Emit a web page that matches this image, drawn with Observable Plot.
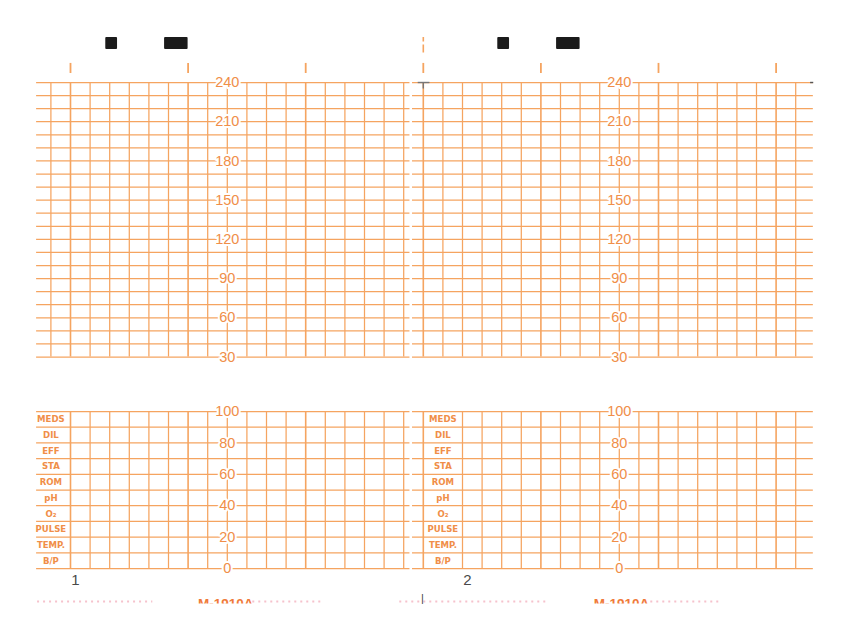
<!DOCTYPE html>
<html><head><meta charset="utf-8">
<script src="https://cdn.jsdelivr.net/npm/d3@7"></script>
<script src="https://cdn.jsdelivr.net/npm/@observablehq/plot@0.6"></script>
<style>
html,body{margin:0;padding:0;background:#fff;}
#paper{position:relative;width:853px;height:640px;overflow:hidden;background:#fff;}
#paper svg{position:absolute;left:0;background:transparent;}
</style></head><body><div id="paper"></div>
<script>
// ---- data (x in seconds of strip time, 10 s per small division) ----
const pages = [1, 2];
const panelStart = [-20, 180];
const panelFrom = [-17.3, 174.5];
const panelTo = [173.2, 379];
const fhrTicks = [240, 210, 180, 150, 120, 90, 60, 30];
const fhrGrid = [30, 40, 50, 60, 70, 80, 90, 100, 110, 120, 130, 140, 150, 160, 170, 180, 190, 200, 210, 220, 230, 240];
const uaTicks = [100, 80, 60, 40, 20, 0];
const uaGrid = [0, 10, 20, 30, 40, 50, 60, 70, 80, 90, 100];
const rowLabels = ["MEDS", "DIL", "EFF", "STA", "ROM", "pH", "O₂", "PULSE", "TEMP.", "B/P"];
const rowValues = [95, 85, 75, 65, 55, 45, 35, 25, 15, 5];
const minuteMarks = [0, 60, 120, 180, 240, 300, 360];
const topVLines = [-10, 0, 10, 20, 30, 40, 50, 60, 70, 80, 90, 100, 110, 120, 130, 140, 150, 160, 170,
                   180, 190, 200, 210, 220, 230, 240, 250, 260, 270, 280, 290, 300, 310, 320, 330, 340, 350, 360, 370];
const bottomVLines = [0, 10, 20, 30, 40, 50, 60, 70, 80, 90, 100, 110, 120, 130, 140, 150, 160, 170,
                      180, 200, 210, 220, 230, 240, 250, 260, 270, 280, 290, 300, 310, 320, 330, 340, 350, 360, 370];
const blocks = [{x1: 18, x2: 24}, {x1: 48, x2: 60}, {x1: 218, x2: 224}, {x1: 248, x2: 260}];
const formCode = "M-1910A";
const formCodeAt = [65, 267];
const faintBits = [{x1: -16.8, x2: 42}, {x1: 93, x2: 129}, {x1: 168, x2: 243}, {x1: 293, x2: 332}];

// ---- derived tables ----
const panels = pages.map((p, i) => ({page: p, start: panelStart[i], from: panelFrom[i], to: panelTo[i]}));
const fhrH = panels.flatMap(pn => fhrGrid.map(v => ({v, x1: pn.from, x2: pn.to})));
const uaH = panels.flatMap(pn => uaGrid.map(v => ({v, x1: pn.from, x2: pn.to})));
const fhrLab = panels.flatMap(pn => fhrTicks.map(v => ({v, x: pn.start + 100})));
const uaLab = panels.flatMap(pn => uaTicks.map(v => ({v, x: pn.start + 100})));
const rowLab = panels.flatMap(pn => rowLabels.map((t, i) => ({t, v: rowValues[i], x: pn.start + 10})));
const codeLab = formCodeAt.map(x => ({x, t: formCode}));

const LINE = "#f5a460";
const TXT = "#f08e48";
const X = {domain: [0, 360], range: [70, 775.6], axis: null};
const numFont = "'Liberation Sans', Arial, Helvetica, sans-serif";

const topPlot = Plot.plot({
  width: 853, height: 385, marginTop: 0, marginBottom: 0, marginLeft: 0, marginRight: 0,
  style: {background: "transparent"},
  x: X,
  y: {domain: [30, 240], range: [356.5, 82], axis: null},
  marks: [
    Plot.ruleY(fhrH, {y: "v", x1: "x1", x2: "x2", stroke: LINE, strokeWidth: 1.25}),
    Plot.ruleX(topVLines, {x: d => d, y1: 30, y2: 240, stroke: LINE, strokeWidth: d => d % 60 === 0 ? 1.6 : 1.25}),
    Plot.ruleX(minuteMarks, {x: d => d, y1: 246.9, y2: 254.6, stroke: LINE, strokeWidth: 1.8}),
    Plot.ruleX([180], {x: d => d, y1: 262.5, y2: 274.5, stroke: LINE, strokeWidth: 1.6, strokeDasharray: "8,3"}),
    Plot.rect(blocks, {x1: "x1", x2: "x2", y1: 265.3, y2: 274.5, fill: "#1b1b1b", rx: 1}),
    Plot.ruleY([240], {y: d => d, x1: 177.4, x2: 183.4, stroke: "#777", strokeWidth: 1.4}),
    Plot.ruleX([180], {x: d => d, y1: 235, y2: 240, stroke: "#777", strokeWidth: 1.4}),
    Plot.ruleY([240], {y: d => d, x1: 377.6, x2: 379.2, stroke: "#555", strokeWidth: 1.4}),
    Plot.text(fhrLab, {x: "x", y: "v", text: d => String(d.v), fill: TXT, stroke: "white", strokeWidth: 4,
      paintOrder: "stroke", fontSize: 14.5, fontFamily: numFont})
  ]
});

const bottomPlot = Plot.plot({
  width: 853, height: 255, marginTop: 0, marginBottom: 36.5, marginLeft: 0, marginRight: 0,
  style: {background: "transparent"},
  x: X,
  y: {domain: [0, 100], range: [183, 26], axis: null},
  marks: [
    Plot.ruleY(uaH, {y: "v", x1: "x1", x2: "x2", stroke: LINE, strokeWidth: 1.25}),
    Plot.ruleX(bottomVLines, {x: d => d, y1: 0, y2: 100, stroke: LINE, strokeWidth: d => d % 60 === 0 ? 1.6 : 1.25}),
    Plot.text(uaLab, {x: "x", y: "v", text: d => String(d.v), fill: TXT, stroke: "white", strokeWidth: 4,
      paintOrder: "stroke", fontSize: 14.5, fontFamily: numFont}),
    Plot.text(rowLab, {x: "x", y: "v", text: "t", fill: TXT, fontSize: 9.5, fontWeight: "bold",
      fontFamily: "'Liberation Sans Narrow', 'DejaVu Sans Condensed', sans-serif"}),
    Plot.text(panels, {x: d => d.start + 22.5, y: 0, dy: 12, text: d => String(d.page), fill: "#4a4a4a",
      fontSize: 15, fontFamily: numFont}),
    Plot.ruleY(faintBits, {y: 0, x1: "x1", x2: "x2", dy: 33, stroke: "#f6c2cc", strokeWidth: 2, strokeDasharray: "2,4"}),
    Plot.text(codeLab, {x: "x", y: 0, dy: 35, text: "t", textAnchor: "start", fill: "#f07a3a", fontSize: 13.5,
      fontWeight: "bold", fontFamily: numFont, clip: true}),
    Plot.text([179.5], {x: d => d, y: 0, dy: 30, text: () => "|", fill: "#444", fontSize: 11, fontFamily: numFont})
  ]
});

const paper = document.getElementById("paper");
topPlot.style.top = "0px";
bottomPlot.style.top = "385px";
paper.appendChild(topPlot);
paper.appendChild(bottomPlot);
</script></body></html>
